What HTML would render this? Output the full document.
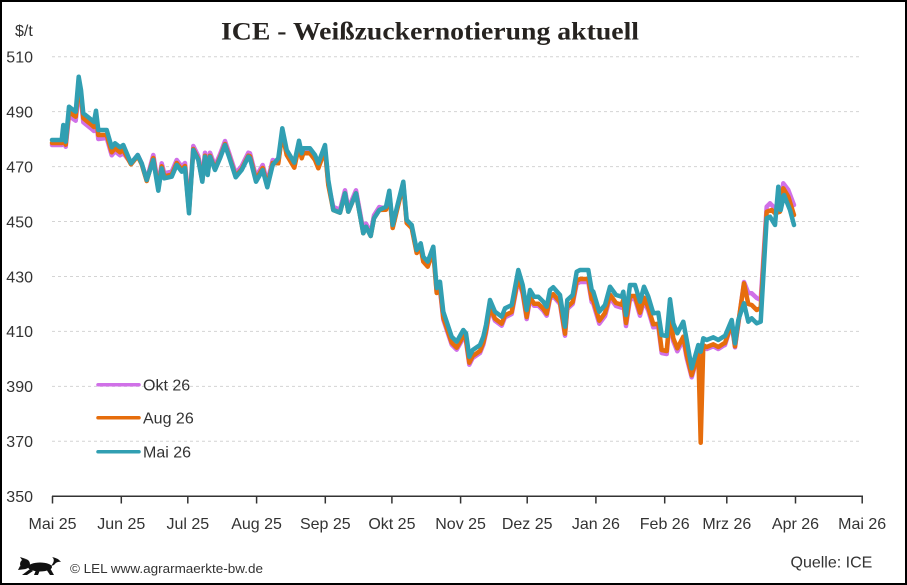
<!DOCTYPE html>
<html><head><meta charset="utf-8"><style>
html,body{margin:0;padding:0;background:#fff;}
svg{display:block;}
text{font-family:"Liberation Sans",Arial,sans-serif;fill:#333;}
</style></head><body>
<svg width="907" height="585" viewBox="0 0 907 585" xmlns="http://www.w3.org/2000/svg">
<rect x="0" y="0" width="907" height="585" fill="#fff"/>
<rect x="1" y="1" width="905" height="583" fill="none" stroke="#000" stroke-width="2"/>
<text x="221" y="39.5" font-family="Liberation Serif, serif" font-weight="bold" font-size="25" textLength="418" lengthAdjust="spacingAndGlyphs" style="font-family:'Liberation Serif',serif;fill:#262320">ICE - Weißzuckernotierung aktuell</text>
<text x="15" y="36" font-size="16">$/t</text>
<g stroke="#d4d4d4" stroke-width="1" stroke-dasharray="3,3">
<line x1="52" y1="56.7" x2="862" y2="56.7"/>
<line x1="52" y1="111.6" x2="862" y2="111.6"/>
<line x1="52" y1="166.6" x2="862" y2="166.6"/>
<line x1="52" y1="221.5" x2="862" y2="221.5"/>
<line x1="52" y1="276.5" x2="862" y2="276.5"/>
<line x1="52" y1="331.4" x2="862" y2="331.4"/>
<line x1="52" y1="386.4" x2="862" y2="386.4"/>
<line x1="52" y1="441.3" x2="862" y2="441.3"/>
</g>
<g font-size="16" text-anchor="end">
<text x="33" y="62.5">510</text>
<text x="33" y="117.4">490</text>
<text x="33" y="172.4">470</text>
<text x="33" y="227.3">450</text>
<text x="33" y="282.3">430</text>
<text x="33" y="337.2">410</text>
<text x="33" y="392.2">390</text>
<text x="33" y="447.1">370</text>
<text x="33" y="502">350</text>
</g>
<g stroke="#333" stroke-width="1.5">
<line x1="52" y1="496.3" x2="863" y2="496.3"/>
<line x1="52.5" y1="496" x2="52.5" y2="503.5"/>
<line x1="121.3" y1="496" x2="121.3" y2="503.5"/>
<line x1="187.8" y1="496" x2="187.8" y2="503.5"/>
<line x1="256.6" y1="496" x2="256.6" y2="503.5"/>
<line x1="325.3" y1="496" x2="325.3" y2="503.5"/>
<line x1="391.9" y1="496" x2="391.9" y2="503.5"/>
<line x1="460.6" y1="496" x2="460.6" y2="503.5"/>
<line x1="527.2" y1="496" x2="527.2" y2="503.5"/>
<line x1="595.9" y1="496" x2="595.9" y2="503.5"/>
<line x1="664.7" y1="496" x2="664.7" y2="503.5"/>
<line x1="726.8" y1="496" x2="726.8" y2="503.5"/>
<line x1="795.5" y1="496" x2="795.5" y2="503.5"/>
<line x1="862.2" y1="496" x2="862.2" y2="503.5"/>
</g>
<g font-size="16" text-anchor="middle">
<text x="52.5" y="529">Mai 25</text>
<text x="121.3" y="529">Jun 25</text>
<text x="187.8" y="529">Jul 25</text>
<text x="256.6" y="529">Aug 25</text>
<text x="325.3" y="529">Sep 25</text>
<text x="391.9" y="529">Okt 25</text>
<text x="460.6" y="529">Nov 25</text>
<text x="527.2" y="529">Dez 25</text>
<text x="595.9" y="529">Jan 26</text>
<text x="664.7" y="529">Feb 26</text>
<text x="726.8" y="529">Mrz 26</text>
<text x="795.5" y="529">Apr 26</text>
<text x="862.2" y="529">Mai 26</text>
</g>
<g fill="none" stroke-width="4.5" stroke-linejoin="round" stroke-linecap="round">
<polyline stroke="#d070e8" points="52,145 58,145 61.7,145 63.3,130 65.7,146.7 69,115.7 73.3,119 75.7,120.7 78.7,92 81,99 83.3,122.3 91.7,129 94,131 96,119.7 98.3,139 106.7,138 111.7,155.3 115,151.3 120,155.3 123.3,153 131,163.3 137.7,155 141.7,163.3 146.7,180 153.3,155 158.3,185.7 161.7,163.3 164.3,173.3 171.7,171.7 176.7,160 181.7,166.7 185,163 189,208.3 193.3,146 198.3,156 202.3,177.7 205,152.7 207.7,171 210,152.7 215,166 220,154.3 225,141 229,152.7 235.7,173.3 241.7,166 248.3,152.7 250,153.3 256,176.7 262.7,165 267.3,182.3 272.7,160 278.3,162.3 282.3,132.3 286.7,154 294.3,166.7 299,144.7 301.7,157.3 303.3,152.3 310,152.3 315,159 318.3,167.3 325,149 328.3,184 333.3,207 340,209.7 345,190.3 348.3,208.7 356,190.3 363.3,230.3 366,223.7 370.7,233 374,215.3 379.3,207 386,208.7 389.3,192.7 392.7,227 396.7,210.3 403.3,183.7 406.7,222 411.7,227 416.7,252 420.7,247.3 423.3,260.7 427.7,265.7 433.3,250.7 436.7,292 440,289.7 443.3,319.7 451.7,344.7 456.7,349.7 463.3,338 466,341.3 469.3,364.7 472.7,358 480,353 483.3,344.7 486,333 490,309 495,320.7 501.7,325.7 505,317.3 511.7,314 518.3,279 522.7,294 526.7,319 530,299 534,305.7 538.3,305.7 543.3,310.7 546.7,315.7 550,299 553.3,296.3 560,304 565,335.7 567.3,309 572.7,304 576.7,283.7 580,282 588.3,282 591.7,302 593.3,303.7 599.3,323.7 605,316 610,297.7 616,306 621.7,307.7 623.3,302.7 626,326 630,299 635,299 640,315.7 644,300.7 648.3,310.7 653.3,327.3 658.3,326.7 661.7,353 666.7,354 670,317.3 673.3,341.3 677.3,351.3 683.3,339.7 686.7,358 691.7,377.3 698.3,354 700.7,360.7 703.3,347.3 706.7,349 713.3,346.3 718.3,349 723.3,345.7 725,345 731.7,324 735,347.3 738.3,324 744,282 748.3,293 751.7,293.3 756.7,298 760.7,300 766.7,206.7 770,203.3 775,208.3 780,206.7 783.3,183.3 788.3,190 794,205"/>
<polyline stroke="#e66d0c" points="52,143 58,143 61.7,143 63.3,128 65.7,144.7 69,111.7 73.3,115 75.7,116.7 78.7,86 81,95 83.3,118.3 91.7,125 94,127 96,115.7 98.3,135 106.7,135 111.7,152.3 115,148.3 120,152.3 123.3,150 131,164.3 137.7,156 141.7,164.3 146.7,181 153.3,158 158.3,188.7 161.7,166.3 164.3,176.3 171.7,174.7 176.7,163 181.7,169.7 185,166 189,211.3 193.3,149 198.3,159 202.3,180.7 205,155.7 207.7,174 210,155.7 215,169 220,157.3 225,144 229,155.7 235.7,176.3 241.7,169 248.3,155.7 250,156.3 256,179.7 262.7,168 267.3,185.3 272.7,163 278.3,163.3 282.3,133.3 286.7,155 294.3,167.7 299,145.7 301.7,158.3 303.3,153.3 310,153.3 315,160 318.3,168.3 325,150 328.3,185 333.3,210 340,212.7 345,193.3 348.3,211.7 356,193.3 363.3,233.3 366,226.7 370.7,236 374,218.3 379.3,210 386,209.7 389.3,193.7 392.7,228 396.7,211.3 403.3,184.7 406.7,223 411.7,228 416.7,253 420.7,248.3 423.3,261.7 427.7,266.7 433.3,251.7 436.7,293 440,287.7 443.3,317.7 451.7,342.7 456.7,347.7 463.3,336 466,339.3 469.3,362.7 472.7,356 480,351 483.3,342.7 486,331 490,307 495,318.7 501.7,323.7 505,315.3 511.7,312 518.3,277 522.7,292 526.7,317 530,297 534,303.7 538.3,303.7 543.3,308.7 546.7,313.7 550,297 553.3,294.3 560,302 565,333.7 567.3,307 572.7,302 576.7,280.7 580,279 588.3,279 591.7,299 593.3,300.7 599.3,320.7 605,313 610,294.7 616,303 621.7,304.7 623.3,299.7 626,323 630,296 635,296 640,312.7 644,297.7 648.3,307.7 653.3,324.3 658.3,323.7 661.7,350 666.7,351 670,314.3 673.3,338.3 677.3,348.3 683.3,336.7 686.7,355 691.7,375.3 698.3,352 700.7,442.7 703.3,345.3 706.7,347 713.3,344.3 718.3,347 723.3,343.7 725,343 731.7,323 735,346.3 738.3,323 744,283.3 748.3,304 751.7,305 756.7,310 760.7,308 766.7,211.7 771.7,210 775,213.3 780,211.7 783.3,188.3 788.3,196.7 794,215"/>
<polyline stroke="#319fb2" points="52,140 58,140 61.7,140 63.3,125 65.7,141.7 69,106.7 73.3,110 75.7,111.7 78.7,76.7 81,90 83.3,113.3 91.7,120 94,122 96,110.7 98.3,130 106.7,130 111.7,147.3 115,143.3 120,147.3 123.3,145 131,163.3 137.7,155 141.7,163.3 146.7,180 153.3,160 158.3,190.7 161.7,168.3 164.3,178.3 171.7,176.7 176.7,165 181.7,171.7 185,168 189,213.3 193.3,150 198.3,160 202.3,181.7 205,156.7 207.7,175 210,156.7 215,170 220,158.3 225,145 229,156.7 235.7,177.3 241.7,170 248.3,156.7 250,158.3 256,181.7 262.7,170 267.3,187.3 272.7,165 278.3,158.3 282.3,128.3 286.7,150 294.3,162.7 299,140.7 301.7,153.3 303.3,148.3 310,148.3 315,155 318.3,163.3 325,145 328.3,180 333.3,210 340,212.7 345,193.3 348.3,211.7 356,193.3 363.3,233.3 366,226.7 370.7,236 374,218.3 379.3,210 386,206.7 389.3,190.7 392.7,225 396.7,208.3 403.3,181.7 406.7,220 411.7,225 416.7,250 420.7,243.3 423.3,256.7 427.7,261.7 433.3,246.7 436.7,288 440,281.7 443.3,311.7 451.7,336.7 456.7,341.7 463.3,330 466,333.3 469.3,356.7 472.7,350 480,345 483.3,336.7 486,325 490,300 495,311.7 501.7,316.7 505,308.3 511.7,305 518.3,270 522.7,285 526.7,310 530,290 534,296.7 538.3,296.7 543.3,301.7 546.7,306.7 550,290 553.3,287.3 560,295 565,326.7 567.3,300 572.7,295 576.7,271.7 580,270 588.3,270 591.7,290 593.3,291.7 599.3,311.7 605,305 610,286.7 616,295 621.7,296.7 623.3,291.7 626,315 630,285 635,285 640,301.7 644,286.7 648.3,296.7 653.3,313.3 658.3,312.7 661.7,335 666.7,336 670,299.3 673.3,323.3 677.3,333.3 683.3,321.7 686.7,340 691.7,368.3 698.3,345 700.7,351.7 703.3,338.3 706.7,340 713.3,337.3 718.3,340 723.3,336.7 725,336 731.7,320 735,343.3 738.3,320 744,303.3 748.3,321.7 751.7,318.3 756.7,323.3 760.7,321.7 766.7,218.3 770,216.7 775,225 778.3,186.7 780.7,210 784,195 790,210 794,225"/>
</g>
<g stroke-width="3.5" stroke-linecap="round">
<line x1="98" y1="384.7" x2="139" y2="384.7" stroke="#d070e8"/>
<line x1="98" y1="417.7" x2="139" y2="417.7" stroke="#e66d0c"/>
<line x1="98" y1="451.7" x2="139" y2="451.7" stroke="#319fb2"/>
</g>
<g font-size="16">
<text x="143" y="390.5">Okt 26</text>
<text x="143" y="423.5">Aug 26</text>
<text x="143" y="457.5">Mai 26</text>
</g>
<g fill="#111">
<ellipse cx="40" cy="567" rx="12" ry="4.5"/>
<circle cx="25" cy="564" r="5"/>
<path d="M20,566 L18,570 L26,569 Z"/>
<path d="M30,569 L22,575 L27,575 L33,571 Z"/>
<path d="M36,570 L34,575 L38,575 L40,570 Z"/>
<path d="M46,569 L50,575 L54,575 L50,568 Z"/>
<path d="M51,566 Q56,560 52,557 Q58,558 61,562 Q57,561 54,565 Z"/>
<path d="M22,560 L20,557 L26,559 Z"/>
</g>
<text x="70" y="573" font-size="13" textLength="193" lengthAdjust="spacingAndGlyphs">© LEL www.agrarmaerkte-bw.de</text>
<text x="790.5" y="567.5" font-size="16">Quelle: ICE</text>
</svg>
</body></html>
